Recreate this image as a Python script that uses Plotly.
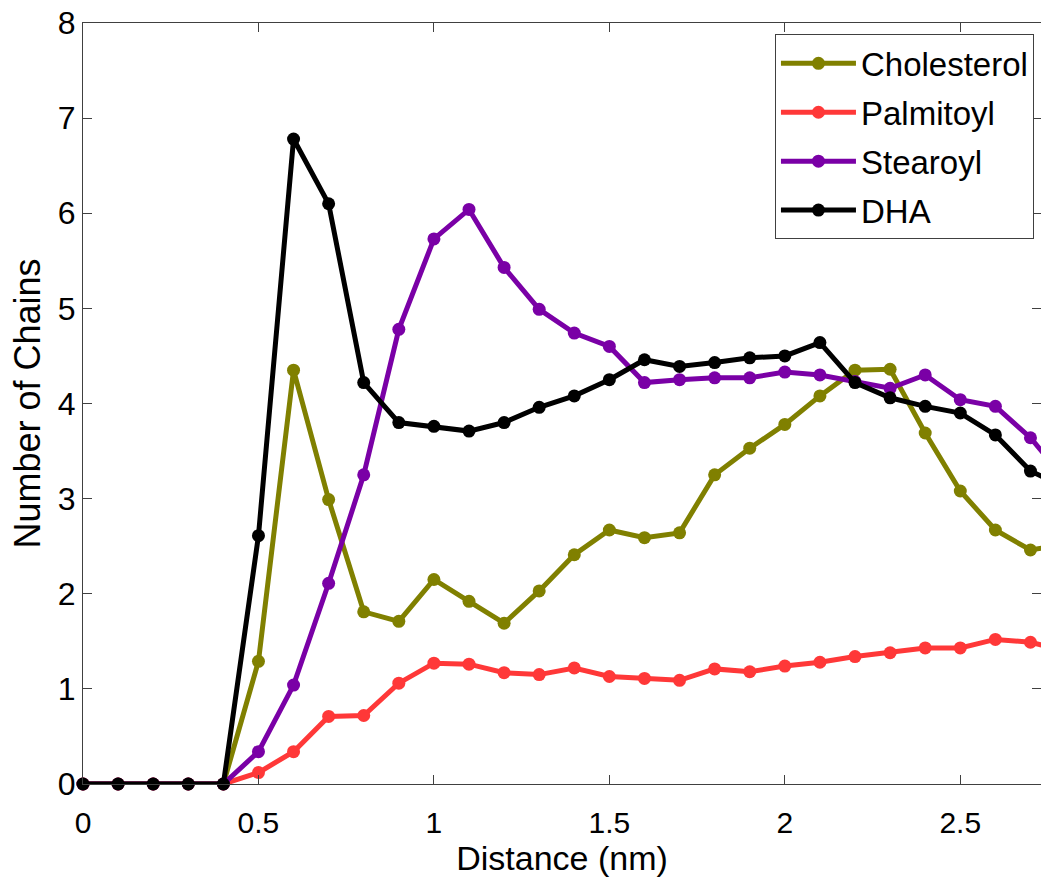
import plotly.graph_objects as go

distance = [0.0, 0.1, 0.2, 0.3, 0.4, 0.5, 0.6, 0.7, 0.8, 0.9, 1.0, 1.1, 1.2, 1.3,
            1.4, 1.5, 1.6, 1.7, 1.8, 1.9, 2.0, 2.1, 2.2, 2.3, 2.4, 2.5, 2.6, 2.7, 2.8]

cholesterol = [0, 0, 0, 0, 0, 1.29, 4.35, 2.99, 1.81, 1.71, 2.15, 1.92, 1.69, 2.03,
               2.41, 2.67, 2.59, 2.64, 3.25, 3.53, 3.78, 4.08, 4.35, 4.36, 3.69, 3.08, 2.67, 2.46, 2.52]
palmitoyl = [0, 0, 0, 0, 0, 0.12, 0.34, 0.71, 0.72, 1.06, 1.27, 1.26, 1.17, 1.15,
             1.22, 1.13, 1.11, 1.09, 1.21, 1.18, 1.24, 1.28, 1.34, 1.38, 1.43, 1.43, 1.52, 1.49, 1.40]
stearoyl = [0, 0, 0, 0, 0, 0.34, 1.04, 2.11, 3.25, 4.78, 5.73, 6.04, 5.43, 4.99,
            4.74, 4.60, 4.22, 4.25, 4.27, 4.27, 4.33, 4.30, 4.23, 4.16, 4.30, 4.04, 3.97, 3.64, 3.20]
dha = [0, 0, 0, 0, 0, 2.61, 6.78, 6.10, 4.22, 3.80, 3.76, 3.71, 3.80, 3.96,
       4.08, 4.25, 4.46, 4.39, 4.43, 4.48, 4.50, 4.64, 4.22, 4.06, 3.97, 3.90, 3.67, 3.29, 3.12]

series_names = ["Cholesterol", "Palmitoyl", "Stearoyl", "DHA"]
series_values = [cholesterol, palmitoyl, stearoyl, dha]
series_colors = ["#808000", "#FF3838", "#7A00A6", "#000000"]

x_ticks = [0, 0.5, 1, 1.5, 2, 2.5]
x_tick_labels = ["0", "0.5", "1", "1.5", "2", "2.5"]
y_ticks = [0, 1, 2, 3, 4, 5, 6, 7, 8]

fig = go.Figure()
for i, (name, vals, col) in enumerate(zip(series_names, series_values, series_colors)):
    fig.add_trace(go.Scatter(
        x=distance, y=vals, name=name, mode="lines+markers",
        line=dict(color=col, width=5),
        marker=dict(color=col, size=13),
        cliponaxis=False,
        legendgroup="g%d" % i,
    ))

font_family = "Liberation Sans, Arial, Helvetica, sans-serif"

fig.update_layout(
    width=1041, height=878,
    margin=dict(l=83, r=0, t=23, b=94, pad=0, autoexpand=False),
    paper_bgcolor="white", plot_bgcolor="white",
    font=dict(family=font_family, color="black"),
    showlegend=True,
    legend=dict(
        x=0.7223, y=0.985, xanchor="left", yanchor="top",
        bgcolor="white", bordercolor="#404040", borderwidth=1,
        font=dict(size=33, family=font_family, color="black"),
        tracegroupgap=3, itemwidth=75,
    ),
    xaxis=dict(
        range=[0, 2.730], tickvals=x_ticks, ticktext=x_tick_labels,
        ticks="inside", ticklen=9, tickcolor="#404040", tickwidth=1,
        showline=True, linecolor="#404040", linewidth=1, mirror="ticks",
        showgrid=False, zeroline=False, automargin=False,
        tickfont=dict(size=30), ticklabelstandoff=12,
        title=dict(text="Distance (nm)", font=dict(size=34), standoff=4),
    ),
    yaxis=dict(
        range=[0, 8], tickvals=y_ticks,
        ticks="inside", ticklen=9, tickcolor="#404040", tickwidth=1,
        showline=True, linecolor="#404040", linewidth=1, mirror="ticks",
        showgrid=False, zeroline=False, automargin=False,
        tickfont=dict(size=32),
        title=dict(text="Number of Chains", font=dict(size=36), standoff=6),
    ),
)

fig.write_html(
    "out.html",
    config={"displayModeBar": False},
    post_script="document.body.style.margin='0';document.body.style.overflow='hidden';",
)
